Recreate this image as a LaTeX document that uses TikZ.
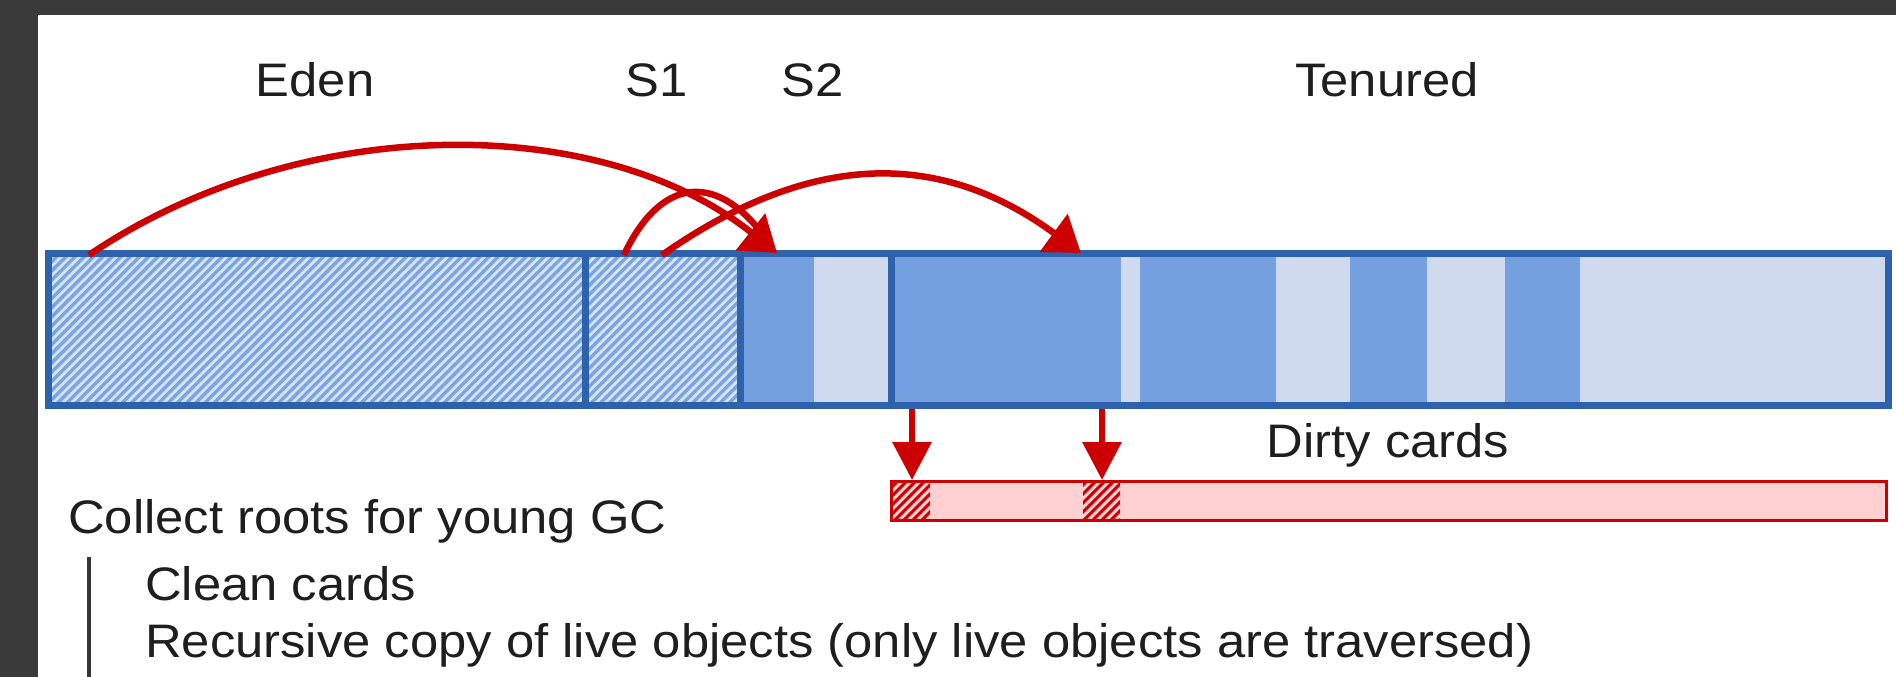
\documentclass[tikz,border=0pt]{standalone}
\usepackage{fontspec}
\setmainfont[FakeStretch=1.08]{Liberation Sans}
\usetikzlibrary{arrows.meta}

\definecolor{bgdark}{HTML}{3A3A3A}
\definecolor{heapedge}{HTML}{2E62AD}
\definecolor{live}{HTML}{74A0E0}
\definecolor{free}{HTML}{CFDAEE}
\definecolor{hatchbg}{HTML}{D8E4F6}
\definecolor{hatchfg}{HTML}{7AA5E2}
\definecolor{refred}{HTML}{CC0000}
\definecolor{cardfill}{HTML}{FFD0D2}
\definecolor{ink}{HTML}{1E1E1E}

\begin{document}
\begin{tikzpicture}[x=1pt,y=-1pt,
  lbl/.style={font=\fontsize{47}{56}\selectfont, text=ink, inner sep=0pt},
  heapline/.style={draw=heapedge, line width=7pt},
  refline/.style={draw=refred, line width=6.5pt},
  ref/.style={refline, -{Triangle[length=34pt,width=46pt]}},
  cardref/.style={refline, -{Triangle[length=38pt,width=38pt]}},
  cardline/.style={draw=refred, line width=3pt}]

\useasboundingbox (0,0) rectangle (1896,677);
\fill[bgdark] (0,0) rectangle (1896,677);
\fill[white] (38,15) rectangle (1896,677);

% region labels
\node[lbl, anchor=base] (eden) at (315,96) {Eden};
\node[lbl, anchor=base] (s1) at (657,96) {S1};
\node[lbl, anchor=base] (s2) at (813,96) {S2};
\node[lbl, anchor=base] (tenured) at (1387,96) {Tenured};

% Eden and S1: hatched young space
\begin{scope}
  \clip (48,253) rectangle (740,405);
  \fill[hatchbg] (48,253) rectangle (740,405);
  \foreach \i in {0,...,95}
    \draw[hatchfg, line width=3.4pt] ({-110+9.2*\i},405) -- ++(152,-152);
\end{scope}

% S2: live objects then free space
\fill[live] (740,253) rectangle (814,405);
\fill[free] (814,253) rectangle (891,405);

% Tenured: alternating live and free runs
\foreach \a/\b/\c in {891/1121/live, 1121/1140/free, 1140/1276/live,
                      1276/1350/free, 1350/1427/live, 1427/1505/free,
                      1505/1580/live, 1580/1888/free}
  \fill[\c] (\a,253) rectangle (\b,405);

% heap outline and space boundaries
\draw[heapline] (48,253) rectangle (1888,405);
\draw[heapline] (585,253) -- (585,405);
\draw[heapline] (740,253) -- (740,405);
\draw[heapline] (891,253) -- (891,405);

% card table
\fill[cardfill] (891,481) rectangle (1886,520);
\begin{scope}
  \clip (891,481) rectangle (930,520) (1083,481) rectangle (1120,520);
  \foreach \i in {0,...,30}
    \draw[refred, line width=3pt] ({850+9*\i},520) -- ++(39,-39);
\end{scope}
\draw[cardline] (891,481) rectangle (1886,520);
\node[lbl, anchor=base] (dirty) at (1388,457) {Dirty cards};

% reference endpoints
\coordinate (edenobj) at (89,255);
\coordinate (s1obja) at (624,255);
\coordinate (s1objb) at (662,255);
\coordinate (s2obj) at (777,253);
\coordinate (tenobj) at (1081,253);
\coordinate (card1src) at (912,409);
\coordinate (card1) at (912,480);
\coordinate (card2src) at (1102,409);
\coordinate (card2) at (1102,480);

% copying arrows
\draw[refline, shorten >=24pt] (s1obja) .. controls (660,178) and (715,172) .. (s2obj);
\draw[ref] (edenobj) .. controls (300,112) and (600,112) .. (s2obj);
\draw[ref] (s1objb) .. controls (812,150) and (941,150) .. (tenobj);

% dirty card marks
\draw[cardref] (card1src) -- (card1);
\draw[cardref] (card2src) -- (card2);

% phase description
\node[lbl, anchor=base west] (collect) at (68,533) {Collect roots for young GC};
\node[lbl, anchor=base west] (clean) at (145,600) {Clean cards};
\node[lbl, anchor=base west] (copy) at (145,657) {Recursive copy of live objects (only live objects are traversed)};
\draw[ink!90, line width=4pt] (89,557) -- (89,677);
\end{tikzpicture}
\end{document}
